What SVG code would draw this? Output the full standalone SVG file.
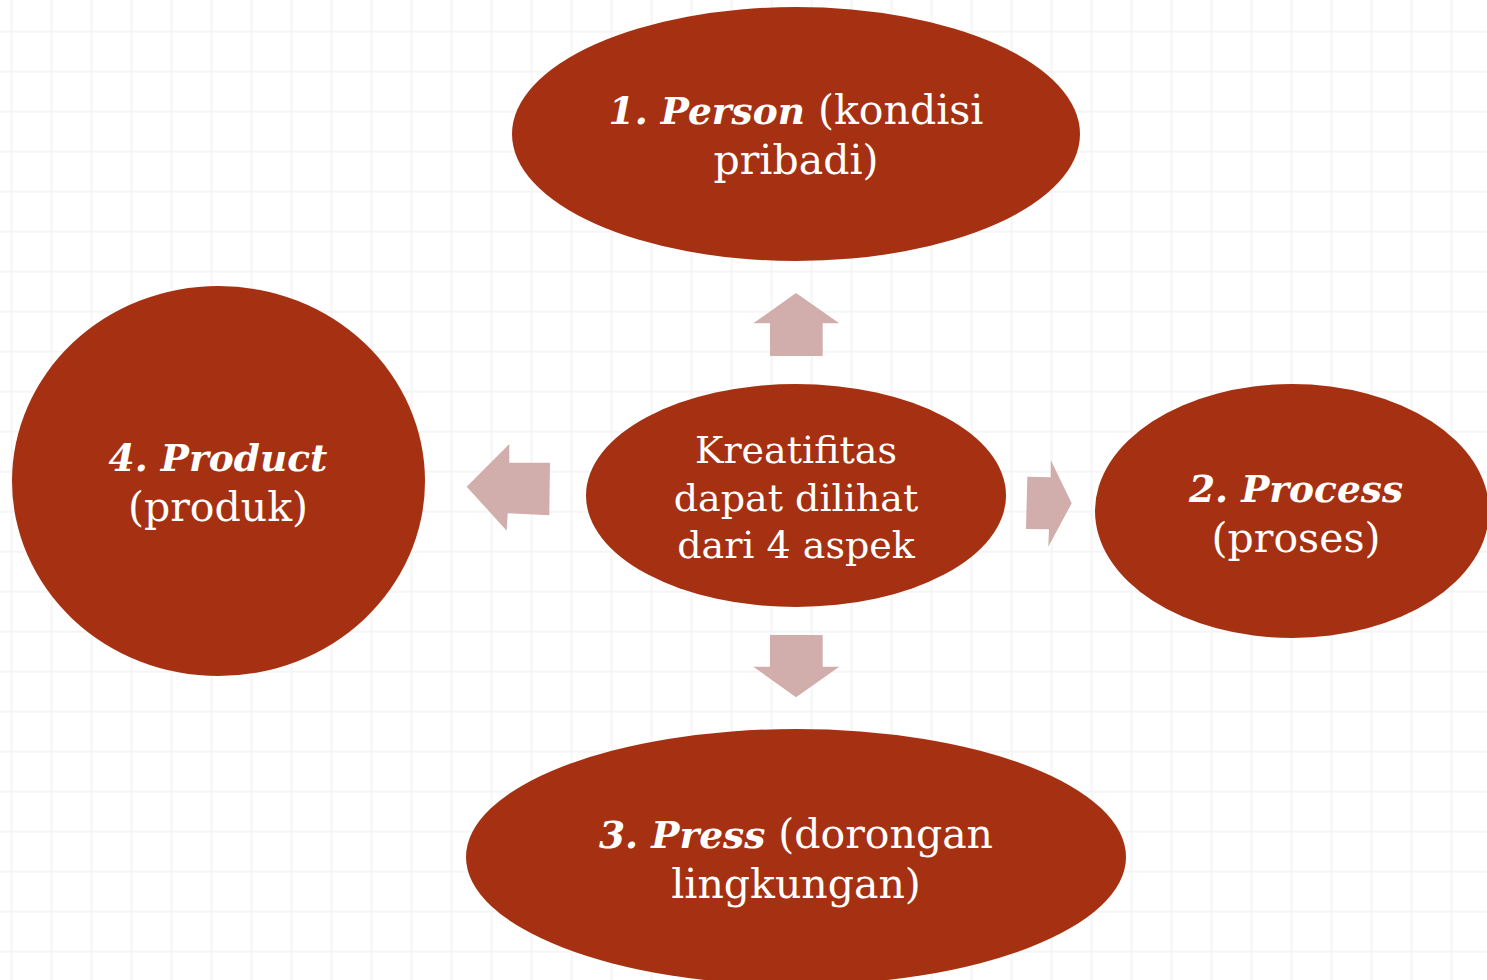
<svg xmlns="http://www.w3.org/2000/svg" width="1487" height="980" viewBox="0 0 1487 980">
  <defs>
    <pattern id="grid" patternUnits="userSpaceOnUse" x="-8.3" y="11.7" width="40" height="40">
      <path d="M20 0V40M0 20H40" stroke="#f5f5f5" stroke-width="2" fill="none"/>
    </pattern>
  </defs>
  <style>
    .bubble { fill: #a53112; }
    .arrow { fill: #d1aeac; }
    .lbl { font-family: "DejaVu Serif", "Liberation Serif", serif; fill: #ffffff; text-anchor: middle; }
    .outer { font-size: 41px; }
    .inner { font-size: 38px; }
    .em { font-weight: bold; font-style: italic; font-size: 37.5px; }
  </style>

  <rect width="1487" height="980" fill="#ffffff"/>
  <rect width="1487" height="980" fill="url(#grid)"/>

  <!-- block arrows pointing from the centre to each aspect -->
  <g id="connectors">
    <polygon class="arrow" points="796,293 839.3,323.3 822.7,323.3 822.7,356 770,356 770,323.3 753.3,323.3"/>
    <polygon class="arrow" points="770,635 822.7,635 822.7,666.7 839.3,666.7 796,697.3 753.3,666.7 770,666.7"/>
    <polygon class="arrow" points="466.7,486.7 509.3,444 509.3,462.7 550,462.7 549.3,515.3 507.7,513.3 506.7,530.7"/>
    <polygon class="arrow" points="1027.3,476.7 1050.7,477.3 1050.7,460 1071.7,503.3 1048.3,546.7 1049,529.3 1026,529"/>
  </g>

  <g id="center">
    <ellipse class="bubble" cx="796" cy="495.5" rx="210" ry="111.5"/>
    <text class="lbl inner" x="796" y="463">Kreatifitas</text>
    <text class="lbl inner" x="796" y="511">dapat dilihat</text>
    <text class="lbl inner" x="796" y="558">dari 4 aspek</text>
  </g>

  <g id="person">
    <ellipse class="bubble" cx="796" cy="134" rx="284" ry="127"/>
    <text class="lbl outer" x="796" y="124"><tspan class="em">1. Person</tspan> (kondisi</text>
    <text class="lbl outer" x="796" y="174">pribadi)</text>
  </g>

  <g id="process">
    <ellipse class="bubble" cx="1292" cy="511" rx="197" ry="127"/>
    <text class="lbl outer" x="1296" y="502"><tspan class="em">2. Process</tspan></text>
    <text class="lbl outer" x="1296" y="552">(proses)</text>
  </g>

  <g id="press">
    <ellipse class="bubble" cx="796" cy="857" rx="330" ry="128"/>
    <text class="lbl outer" x="796" y="848"><tspan class="em">3. Press</tspan> (dorongan</text>
    <text class="lbl outer" x="796" y="898">lingkungan)</text>
  </g>

  <g id="product">
    <ellipse class="bubble" cx="218.5" cy="481" rx="206.5" ry="195"/>
    <text class="lbl outer" x="218" y="471"><tspan class="em">4. Product</tspan></text>
    <text class="lbl outer" x="218" y="521">(produk)</text>
  </g>
</svg>
